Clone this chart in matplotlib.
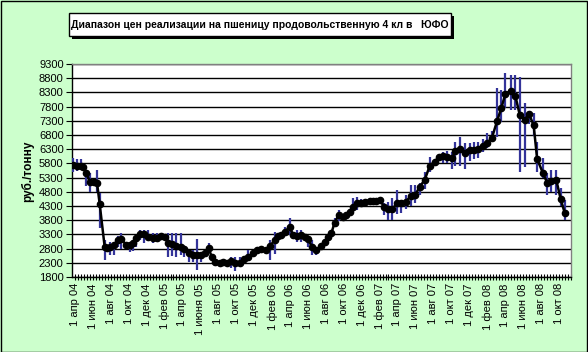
import numpy as np
import matplotlib
matplotlib.use("Agg")
import matplotlib.pyplot as plt
import matplotlib.dates as mdates
from matplotlib.patches import Rectangle

# ---- data ----
base_date = np.datetime64('2004-04-01')
day_offsets = [-8, 6, 19, 27, 39, 51, 65, 75, 84, 101, 110, 119, 132, 146, 158, 174, 186, 197, 208, 221,
               234, 248, 265, 280, 293, 305, 316, 329, 344, 359, 370, 386, 401, 415, 429, 441, 454, 465, 477, 492,
               503, 517, 531, 542, 559, 574, 588, 605, 619, 633, 650, 664, 678, 690, 701, 714, 729, 741, 755, 769,
               780, 791, 805, 820, 835, 848, 859, 871, 882, 896, 910, 922, 933, 944, 959, 972, 984, 1001, 1012, 1023,
               1035, 1050, 1063, 1077, 1095, 1108, 1125, 1140, 1156, 1171, 1188, 1205, 1222, 1235, 1250, 1265, 1281, 1292, 1307, 1324,
               1341, 1355, 1369, 1386, 1400, 1416, 1434, 1448, 1462, 1480, 1496, 1511, 1528, 1542, 1558, 1570, 1590, 1604, 1618, 1635,
               1650, 1664]
price_avg = [5760, 5720, 5720, 5690, 5450, 5150, 5130, 5120, 4370, 2860, 2830, 2850, 2930, 3105, 3130, 2930, 2930, 2990, 3165, 3315,
             3315, 3200, 3185, 3185, 3245, 3220, 3010, 2950, 2905, 2870, 2775, 2635, 2575, 2575, 2575, 2635, 2820, 2495, 2340, 2305,
             2340, 2305, 2365, 2305, 2305, 2425, 2515, 2635, 2750, 2775, 2760, 2900, 3105, 3245, 3280, 3395, 3575, 3280, 3245, 3280,
             3220, 3130, 2870, 2750, 2895, 3045, 3200, 3340, 3715, 3985, 3925, 3985, 4100, 4280, 4395, 4395, 4455, 4480, 4490, 4490,
             4515, 4280, 4185, 4185, 4395, 4420, 4455, 4655, 4690, 4980, 5215, 5710, 5860, 6015, 6060, 6035, 5980, 6250, 6300, 6155,
             6275, 6275, 6300, 6415, 6530, 6685, 7295, 7740, 8245, 8360, 8175, 7505, 7330, 7540, 7155, 5955, 5450, 5120, 5190, 5215,
             4540, 4045]
price_low = [5510, 5550, 5560, 5690, 4990, 4810, 5130, 4810, 3515, 2400, 2830, 2570, 2580, 2870, 2800, 2930, 2690, 2700, 2870, 3100,
             3000, 3100, 3000, 3100, 3245, 3220, 2515, 2540, 2520, 2570, 2500, 2340, 2340, 2040, 2320, 2635, 2750, 2495, 2200, 2305,
             2200, 2305, 2100, 2000, 2200, 2425, 2400, 2635, 2750, 2775, 2760, 2400, 2600, 3245, 3280, 3280, 3280, 3280, 3030, 3050,
             3220, 2870, 2570, 2570, 2895, 3045, 3200, 3340, 3575, 3770, 3925, 3985, 4100, 4100, 4160, 4280, 4455, 4480, 4490, 4490,
             4515, 3985, 3800, 3800, 4020, 4040, 4200, 4300, 4400, 4700, 4900, 5500, 5860, 6015, 5800, 5800, 5600, 5700, 5700, 5600,
             5900, 5950, 6000, 6200, 6350, 6650, 6740, 7270, 7740, 7680, 7680, 5510, 5685, 7200, 6750, 5510, 5300, 4700, 4800, 4700,
             4300, 3800]
price_high = [5980, 5950, 5950, 5690, 5460, 5450, 5130, 5570, 4750, 3100, 2830, 3045, 3045, 3245, 3340, 2930, 3045, 3050, 3245, 3455,
              3455, 3455, 3340, 3340, 3245, 3220, 3340, 3340, 3340, 3340, 2870, 2750, 2750, 3150, 2690, 2635, 2990, 2495, 2400, 2305,
              2400, 2305, 2515, 2515, 2515, 2425, 2750, 2635, 2750, 2775, 2760, 3105, 3380, 3245, 3280, 3575, 3880, 3280, 3455, 3455,
              3220, 3240, 3105, 2800, 2895, 3045, 3200, 3340, 3880, 4160, 3925, 3985, 4100, 4570, 4600, 4540, 4455, 4480, 4490, 4490,
              4515, 4405, 4455, 4570, 4865, 4515, 4690, 5040, 5040, 5100, 5500, 6035, 5860, 6015, 6215, 6250, 6215, 6565, 6740, 6510,
              6530, 6565, 6565, 6650, 6860, 6950, 8445, 8385, 8970, 8910, 8900, 8855, 7915, 7600, 7565, 6565, 5980, 5450, 5570, 5570,
              4925, 4515]

y_ticks = list(range(1800, 9301, 500))
x_tick_dates = ['2004-04-01', '2004-06-01', '2004-08-01', '2004-10-01', '2004-12-01', '2005-02-01', '2005-04-01',
                '2005-06-01', '2005-08-01', '2005-10-01', '2005-12-01', '2006-02-01', '2006-04-01', '2006-06-01',
                '2006-08-01', '2006-10-01', '2006-12-01', '2007-02-01', '2007-04-01', '2007-06-01', '2007-08-01',
                '2007-10-01', '2007-12-01', '2008-02-01', '2008-04-01', '2008-06-01', '2008-08-01', '2008-10-01']
x_tick_labels = ['1 апр 04', '1 июн 04', '1 авг 04', '1 окт 04', '1 дек 04', '1 фев 05', '1 апр 05',
                 '1 июня 05', '1 авг 05', '1 окт 05', '1 дек 05', '1 фев 06', '1 апр 06', '1 июн 06',
                 '1 авг 06', '1 окт 06', '1 дек 06', '1 фев 07', '1 апр 07', '1 июн 07', '1 авг 07',
                 '1 окт 07', '1 дек 07', '1 фев 08', '1 апр 08', '1 июн 08', '1 авг 08', '1 окт 08']
title_text = 'Диапазон цен реализации на пшеницу продовольственную 4 кл в   ЮФО'
y_label = 'руб./тонну'

# ---- figure ----
plt.rcParams['font.family'] = ['Liberation Sans', 'DejaVu Sans']
W, H = 588, 352
fig = plt.figure(figsize=(W / 100, H / 100), dpi=100, facecolor='#CCFFCC')
fig.patches.append(Rectangle((0.5 / W, 0.5 / H), 1 - 1.5 / W, 1 - 1.5 / H, transform=fig.transFigure,
                             fill=False, edgecolor='black', linewidth=1.0))

ax = fig.add_axes([72 / W, 1 - 277 / H, (571 - 72) / W, (277 - 64) / H])
ax.set_facecolor('white')

dates = base_date + np.array(day_offsets).astype('timedelta64[D]')
dates_num = mdates.date2num(dates.astype('datetime64[D]').astype(object))

ax.vlines(dates_num, price_low, price_high, color='#333399', linewidth=1.6, zorder=3)
ax.plot(dates_num, price_avg, color='black', linewidth=1.8, marker='o', markersize=4.5,
        markerfacecolor='black', markeredgecolor='black', zorder=4)

ax.set_ylim(1800, 9300)
ax.set_yticks(y_ticks)
ax.set_yticklabels([str(v) for v in y_ticks], fontsize=8)
ax.yaxis.grid(True, color='black', linewidth=1.0)
ax.set_axisbelow(True)

left_lim = mdates.date2num(np.datetime64('2004-03-22').astype(object))
right_lim = mdates.date2num(np.datetime64('2008-11-11').astype(object))
ax.set_xlim(left_lim, right_lim)
tick_nums = [mdates.date2num(np.datetime64(d).astype(object)) for d in x_tick_dates]
ax.set_xticks(tick_nums)
ax.set_xticklabels(x_tick_labels, rotation=90, fontsize=8)
ax.xaxis.set_minor_locator(mdates.DayLocator(bymonthday=[1, 11, 21]))
ax.tick_params(axis='x', which='both', direction='inout', length=5, width=0.8, pad=2)
ax.tick_params(axis='y', direction='out', length=4, width=0.8, pad=2)

for s in ['left', 'bottom']:
    ax.spines[s].set_color('black')
    ax.spines[s].set_linewidth(1.0)
for s in ['top', 'right']:
    ax.spines[s].set_color('#808080')
    ax.spines[s].set_linewidth(1.0)

fig.text(28 / W, 1 - 171 / H, y_label, rotation=90, ha='center', va='center',
         fontsize=8.5, fontweight='bold')

# title box with shadow
bx0, bx1, by0, by1 = 69, 451, 13, 36
fig.patches.append(Rectangle(((bx0 + 3) / W, 1 - (by1 + 3) / H), (bx1 - bx0) / W, (by1 - by0) / H,
                             transform=fig.transFigure, facecolor='black', edgecolor='black', linewidth=0))
fig.patches.append(Rectangle((bx0 / W, 1 - by1 / H), (bx1 - bx0) / W, (by1 - by0) / H,
                             transform=fig.transFigure, facecolor='white', edgecolor='black', linewidth=1.0))
fig.text((bx0 + bx1) / 2 / W, 1 - 24.5 / H, title_text, ha='center', va='center',
         fontsize=7.5, fontweight='bold')

fig.savefig('out.png', dpi=100, facecolor=fig.get_facecolor())
